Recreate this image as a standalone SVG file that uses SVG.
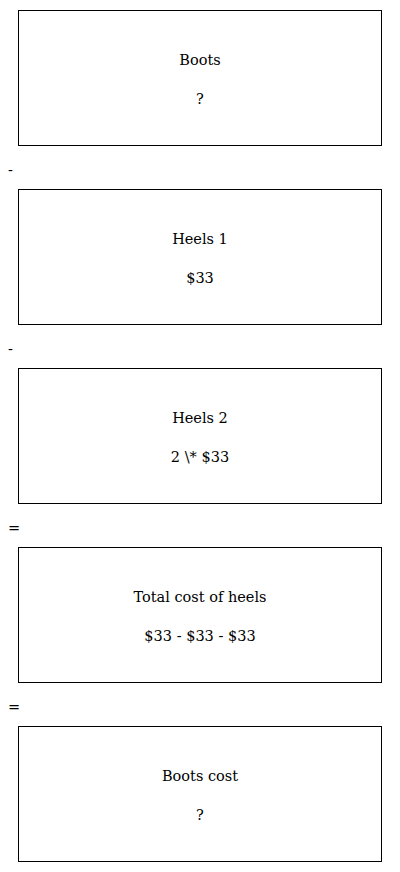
<svg xmlns="http://www.w3.org/2000/svg" width="400" height="872" viewBox="0 0 400 872">
<style>
rect{fill:#fff;stroke:#000;stroke-width:1}
text{font-family:"DejaVu Serif","Liberation Serif",serif;font-size:14.5px;fill:#000}
.c{text-anchor:middle}
</style>
<rect x="0" y="0" width="400" height="872" style="stroke:none"/>
<g id="boots"><rect x="18.5" y="10.5" width="363" height="135"/><text class="c" x="200" y="65">Boots</text><text class="c" x="200" y="104">?</text></g>
<g id="heels1"><rect x="18.5" y="189.5" width="363" height="135"/><text class="c" x="200" y="244">Heels 1</text><text class="c" x="200" y="283">$33</text></g>
<g id="heels2"><rect x="18.5" y="368.5" width="363" height="135"/><text class="c" x="200" y="423">Heels 2</text><text class="c" x="200" y="462">2 \* $33</text></g>
<g id="total"><rect x="18.5" y="547.5" width="363" height="135"/><text class="c" x="200" y="602">Total cost of heels</text><text class="c" x="200" y="641">$33 - $33 - $33</text></g>
<g id="bootscost"><rect x="18.5" y="726.5" width="363" height="135"/><text class="c" x="200" y="781">Boots cost</text><text class="c" x="200" y="820">?</text></g>
<g id="connectors">
<text x="8" y="175">-</text>
<text x="8" y="354">-</text>
<text x="8" y="533">=</text>
<text x="8" y="712">=</text>
</g>
</svg>
